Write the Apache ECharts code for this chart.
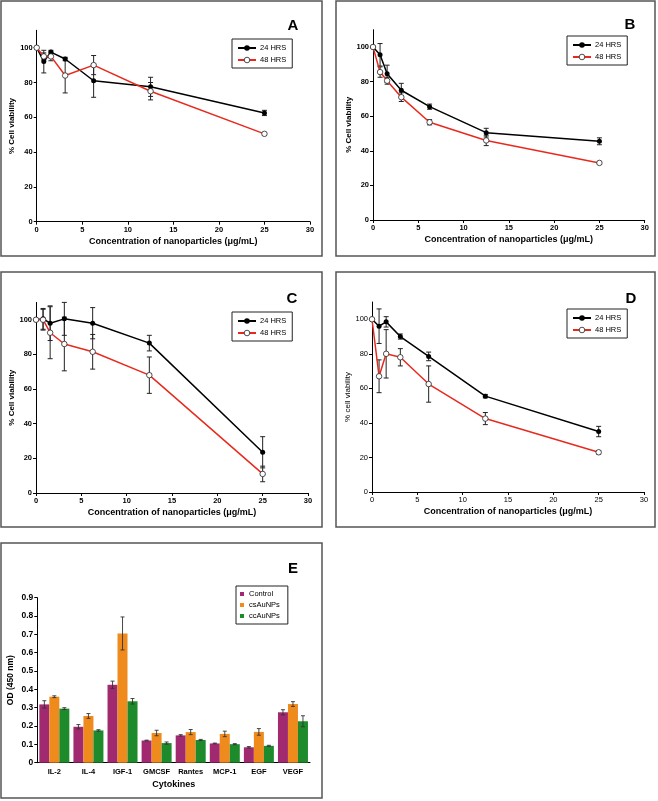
<!DOCTYPE html>
<html><head><meta charset="utf-8">
<script src="https://cdn.jsdelivr.net/npm/echarts@6/dist/echarts.min.js"></script>
<style>html,body{margin:0;padding:0;background:#fff}#c{width:658px;height:801px}</style>
</head><body><div id="c"></div>
<script>
// ---- data ----
const conc = [0, 0.78, 1.56, 3.125, 6.25, 12.5, 25];
const yTicks = [0, 20, 40, 60, 80, 100];
const lineNames = ['24 HRS', '48 HRS'];

const A24 = [100, 92, 97.5, 93.5, 81, 77.5, 62.5];
const A24err = [0, 6.5, 1, 1, 9.5, 5.5, 1.5];
const A48 = [100, 95, 95, 84, 90, 75, 50.5];
const A48err = [0, 2, 2.5, 10, 5.5, 5, 0.8];

const B24 = [100, 95.5, 84.5, 75, 65.5, 50.5, 45.5];
const B24err = [0, 6.5, 5, 4, 1.5, 2.5, 2];
const B48 = [100, 85.5, 80.5, 71, 56.5, 46, 33];
const B48err = [0, 3, 2, 2.5, 1.5, 3, 0.5];

const C24 = [100, 100.5, 98, 100.5, 98, 86.5, 23.5];
const C24err = [0, 6, 10, 9.5, 9, 4.5, 9];
const C48 = [100, 100, 92.5, 86, 81.5, 68, 11];
const C48err = [0, 6, 15, 15.5, 10, 10.5, 4.5];

const D24 = [100, 96, 98.5, 90, 78.5, 55.5, 35];
const D24err = [0, 10, 3, 1.5, 2.5, 1, 3];
const D48 = [100, 67, 80, 78, 62.5, 42.5, 23];
const D48err = [0, 9.5, 14, 5, 10.5, 3.5, 1];

const cytokines = ['IL-2', 'IL-4', 'IGF-1', 'GMCSF', 'Rantes', 'MCP-1', 'EGF', 'VEGF'];
const barNames = ['Control', 'csAuNPs', 'ccAuNPs'];
const control = [0.318, 0.196, 0.425, 0.121, 0.149, 0.105, 0.084, 0.275];
const controlErr = [0.02, 0.012, 0.02, 0.002, 0.004, 0.002, 0.004, 0.014];
const csAu = [0.36, 0.255, 0.705, 0.162, 0.167, 0.157, 0.168, 0.32];
const csAuErr = [0.005, 0.013, 0.09, 0.015, 0.014, 0.015, 0.018, 0.013];
const ccAu = [0.295, 0.176, 0.335, 0.107, 0.124, 0.101, 0.092, 0.226];
const ccAuErr = [0.005, 0.004, 0.015, 0.006, 0.003, 0.003, 0.003, 0.03];

// ---- build ----
const FF = 'Liberation Sans, Arial, sans-serif';
const chart = echarts.init(document.getElementById('c'), null, {renderer: 'canvas'});

const grids = [
  {left: 36.7, top: 30.3, width: 273.3, height: 191.4},
  {left: 373, top: 29.7, width: 271.7, height: 190.3},
  {left: 36, top: 302.4, width: 272, height: 190.6},
  {left: 372, top: 302, width: 272, height: 190},
  {left: 37.3, top: 597.7, width: 272.7, height: 165}
];

const axisLineStyle = {lineStyle: {color: '#000', width: 1}};
function xVal(gi, bold) {
  return {type: 'value', gridIndex: gi, min: 0, max: 30, interval: 5,
    name: 'Concentration of nanoparticles (\u03bcg/mL)', nameLocation: 'middle', nameGap: 15.5,
    nameTextStyle: {fontFamily: FF, fontWeight: 'bold', fontSize: 9, color: '#000'},
    axisLine: axisLineStyle, axisTick: {length: 3, lineStyle: {color: '#000'}},
    axisLabel: {fontFamily: FF, fontWeight: bold ? 'bold' : 'normal', fontSize: 7.5, color: '#000', margin: 4},
    splitLine: {show: false}};
}
function yVal(gi, name, bold) {
  return {type: 'value', gridIndex: gi, min: 0, max: 110,
    name: name, nameLocation: 'middle', nameGap: 16.5, nameRotate: 90,
    nameTextStyle: {fontFamily: FF, fontWeight: bold ? 'bold' : 'normal', fontSize: 8, color: '#000'},
    axisLine: {show: true, lineStyle: {color: '#000', width: 1}},
    axisTick: {show: true, length: 3, customValues: yTicks, lineStyle: {color: '#000'}},
    axisLabel: {customValues: yTicks, fontFamily: FF, fontWeight: bold ? 'bold' : 'normal', fontSize: 7.5, color: '#000', margin: 4},
    splitLine: {show: false}};
}

function errRender(params, api) {
  const lo = api.value(1), hi = api.value(2);
  if (!(hi > lo)) return null;
  const a = api.coord([api.value(0), lo]);
  const b = api.coord([api.value(0), hi]);
  const w = 2.5;
  const st = {stroke: '#222', lineWidth: 1};
  return {type: 'group', children: [
    {type: 'line', shape: {x1: a[0], y1: a[1], x2: b[0], y2: b[1]}, style: st},
    {type: 'line', shape: {x1: a[0] - w, y1: a[1], x2: a[0] + w, y2: a[1]}, style: st},
    {type: 'line', shape: {x1: b[0] - w, y1: b[1], x2: b[0] + w, y2: b[1]}, style: st}
  ]};
}

const openItem = {color: '#fff', borderColor: '#222', borderWidth: 0.8};
function mkLine(gi, name, ys, open) {
  return {type: 'line', name: name, xAxisIndex: gi, yAxisIndex: gi,
    data: conc.map((x, i) => [x, ys[i]]), symbol: 'circle', symbolSize: open ? 5.5 : 5,
    lineStyle: {color: open ? '#e82a1e' : '#000', width: 1.5},
    itemStyle: open ? openItem : {color: '#000'},
    z: open ? 4 : 3, animation: false};
}
function mkErr(gi, ys, es) {
  return {type: 'custom', name: 'err', xAxisIndex: gi, yAxisIndex: gi, silent: true,
    data: conc.map((x, i) => [x, ys[i] - es[i], ys[i] + es[i]]),
    encode: {x: 0, y: [1, 2]}, renderItem: errRender, z: 2, animation: false};
}

const panels = [
  [A24, A24err, A48, A48err],
  [B24, B24err, B48, B48err],
  [C24, C24err, C48, C48err],
  [D24, D24err, D48, D48err]
];
const series = [];
panels.forEach((p, gi) => {
  series.push(mkErr(gi, p[0], p[1]));
  series.push(mkErr(gi, p[2], p[3]));
  series.push(mkLine(gi, lineNames[0], p[0], false));
  series.push(mkLine(gi, lineNames[1], p[2], true));
});

// bars
const barColors = ['#a0296f', '#ef8a1d', '#1d8a2b'];
const barVals = [control, csAu, ccAu];
const barErrs = [controlErr, csAuErr, ccAuErr];
const BW = 10;
barVals.forEach((vals, k) => {
  series.push({type: 'bar', name: barNames[k], xAxisIndex: 4, yAxisIndex: 4,
    data: vals, barWidth: BW, barGap: '0%', itemStyle: {color: barColors[k]}, animation: false, z: 2});
});
barVals.forEach((vals, k) => {
  const off = (k - 1) * BW;
  series.push({type: 'custom', name: 'berr', xAxisIndex: 4, yAxisIndex: 4, silent: true, z: 3, animation: false,
    data: vals.map((v, i) => [i, v - barErrs[k][i], v + barErrs[k][i]]),
    encode: {x: 0, y: [1, 2]},
    renderItem: function (params, api) {
      const a = api.coord([api.value(0), api.value(1)]);
      const b = api.coord([api.value(0), api.value(2)]);
      const x = a[0] + off, w = 2;
      const st = {stroke: '#333', lineWidth: 0.9};
      return {type: 'group', children: [
        {type: 'line', shape: {x1: x, y1: a[1], x2: x, y2: b[1]}, style: st},
        {type: 'line', shape: {x1: x - w, y1: a[1], x2: x + w, y2: a[1]}, style: st},
        {type: 'line', shape: {x1: x - w, y1: b[1], x2: x + w, y2: b[1]}, style: st}
      ]};
    }});
});

const xAxes = [xVal(0, true), xVal(1, true), xVal(2, true), xVal(3, true),
  {type: 'category', gridIndex: 4, data: cytokines, name: 'Cytokines', nameLocation: 'middle', nameGap: 17,
   nameTextStyle: {fontFamily: FF, fontWeight: 'bold', fontSize: 9, color: '#000'},
   axisLine: axisLineStyle, axisTick: {length: 3, lineStyle: {color: '#000'}},
   axisLabel: {fontFamily: FF, fontWeight: 'bold', fontSize: 7.5, color: '#000', margin: 5, interval: 0}}];
const yAxes = [yVal(0, '% Cell viability', true), yVal(1, '% Cell viability', true),
  yVal(2, '% Cell viability', true), yVal(3, '% cell viability', false),
  {type: 'value', gridIndex: 4, min: 0, max: 0.9, interval: 0.1, name: 'OD (450 nm)', nameLocation: 'middle',
   nameGap: 22, nameRotate: 90, nameTextStyle: {fontFamily: FF, fontWeight: 'bold', fontSize: 8.5, color: '#000'},
   axisLine: {show: true, lineStyle: {color: '#000', width: 1}}, axisTick: {show: true, length: 3, lineStyle: {color: '#000'}},
   axisLabel: {fontFamily: FF, fontWeight: 'bold', fontSize: 8.5, color: '#000', margin: 4}, splitLine: {show: false}}];
// panel D ticks are not bold
yAxes[3].axisLabel.fontWeight = 'normal';
xAxes[3].axisLabel.fontWeight = 'normal';

function lineLegend(left, top) {
  return {data: [{name: lineNames[0]}, {name: lineNames[1], itemStyle: openItem}],
    left: left, top: top, orient: 'vertical', selectedMode: false,
    borderColor: '#222', borderWidth: 1, padding: [5, 6, 4, 5], itemGap: 4, itemWidth: 18, itemHeight: 7,
    textStyle: {fontFamily: FF, fontSize: 7.5, color: '#000', padding: [0, 0, 0, -1]}};
}
const legends = [lineLegend(232, 39), lineLegend(567, 36), lineLegend(232, 312), lineLegend(567, 309),
  {data: barNames, left: 236, top: 586, orient: 'vertical', selectedMode: false, icon: 'rect',
   borderColor: '#222', borderWidth: 1, padding: [4, 8, 4, 4], itemGap: 3, itemWidth: 4, itemHeight: 4,
   textStyle: {fontFamily: FF, fontSize: 7.5, color: '#000'}}];

const boxes = [[1, 1, 321, 255], [336, 1, 319, 255], [1, 272, 321, 255], [336, 272, 319, 255], [1, 543, 321, 255]];
const letters = [['A', 293, 26], ['B', 630, 25], ['C', 292, 299], ['D', 631, 299], ['E', 293, 569]];
const graphic = [];
boxes.forEach(b => graphic.push({type: 'rect', shape: {x: b[0], y: b[1], width: b[2], height: b[3]},
  style: {fill: 'none', stroke: '#555', lineWidth: 1.5}, silent: true}));
letters.forEach(l => graphic.push({type: 'text', x: l[1], y: l[2],
  style: {text: l[0], font: 'bold 15px Liberation Sans, Arial, sans-serif', fill: '#000', textAlign: 'center', textVerticalAlign: 'middle'}}));

chart.setOption({
  animation: false,
  backgroundColor: '#fff',
  grid: grids,
  xAxis: xAxes,
  yAxis: yAxes,
  legend: legends,
  series: series,
  graphic: graphic
});
</script></body></html>
